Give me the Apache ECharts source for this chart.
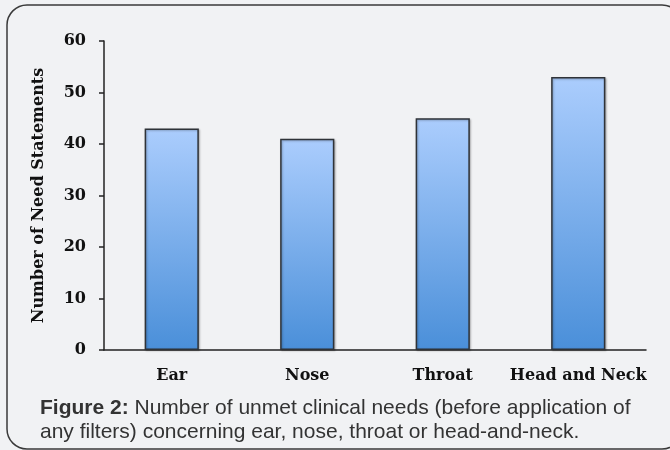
<!DOCTYPE html>
<html>
<head>
<meta charset="utf-8">
<script src="https://cdn.jsdelivr.net/npm/echarts@6/dist/echarts.min.js"></script>
<style>
  html, body { margin: 0; padding: 0; background: #f1f2f4; }
  #chart { width: 670px; height: 450px; }
</style>
</head>
<body>
<div id="chart"></div>
<script>
// Unmet clinical need statements per anatomical area
const categories = ['Ear', 'Nose', 'Throat', 'Head and Neck'];
const needCounts = [43, 41, 45, 53];
const yTicks = { min: 0, max: 60, interval: 10 };

const chart = echarts.init(document.getElementById('chart'));

const serif = '"DejaVu Serif", "Liberation Serif", serif';
const sans = '"Liberation Sans", Arial, sans-serif';

chart.setOption({
  backgroundColor: '#f1f2f4',
  animation: false,
  graphic: [
    {
      type: 'rect',
      shape: { x: 7, y: 5, width: 675, height: 444, r: 20 },
      style: { fill: 'none', stroke: '#3a3a3a', lineWidth: 1.5 },
      silent: true
    },
    {
      type: 'text',
      left: 40,
      top: 396,
      style: {
        text: '{b|Figure 2:} Number of unmet clinical needs (before application of\nany filters) concerning ear, nose, throat or head-and-neck.',
        rich: {
          b: {
            fontFamily: sans,
            fontWeight: 'bold',
            fontSize: 21,
            fill: '#333'
          }
        },
        fontFamily: sans,
        fontSize: 21,
        lineHeight: 24,
        fill: '#333'
      }
    }
  ],
  grid: { left: 104, top: 41, right: 24, bottom: 100 },
  xAxis: {
    type: 'category',
    data: categories,
    axisLine: { show: true, lineStyle: { color: '#222', width: 1.5 } },
    axisTick: { show: false },
    axisLabel: {
      interval: 0,
      margin: 18,
      fontFamily: serif,
      fontWeight: 'bold',
      fontSize: 16,
      color: '#111'
    }
  },
  yAxis: {
    type: 'value',
    min: yTicks.min,
    max: yTicks.max,
    interval: yTicks.interval,
    name: 'Number of Need Statements',
    nameLocation: 'middle',
    nameGap: 57,
    nameTextStyle: {
      fontFamily: serif,
      fontWeight: 'bold',
      fontSize: 16,
      color: '#111'
    },
    axisLine: { show: true, lineStyle: { color: '#222', width: 1.5 } },
    axisTick: { show: true, length: 5, lineStyle: { color: '#222', width: 1.5 } },
    splitLine: { show: false },
    axisLabel: {
      margin: 18,
      fontFamily: serif,
      fontWeight: 'bold',
      fontSize: 16,
      color: '#111'
    }
  },
  series: [
    {
      type: 'bar',
      data: needCounts,
      barWidth: '40%',
      itemStyle: {
        color: new echarts.graphic.LinearGradient(0, 0, 0, 1, [
          { offset: 0, color: '#abcdfd' },
          { offset: 1, color: '#4a8fd9' }
        ]),
        borderColor: '#2f3338',
        borderWidth: 1.5,
        shadowColor: 'rgba(0,0,0,0.25)',
        shadowBlur: 2,
        shadowOffsetX: 1,
        shadowOffsetY: 1
      }
    }
  ]
});
</script>
</body>
</html>
